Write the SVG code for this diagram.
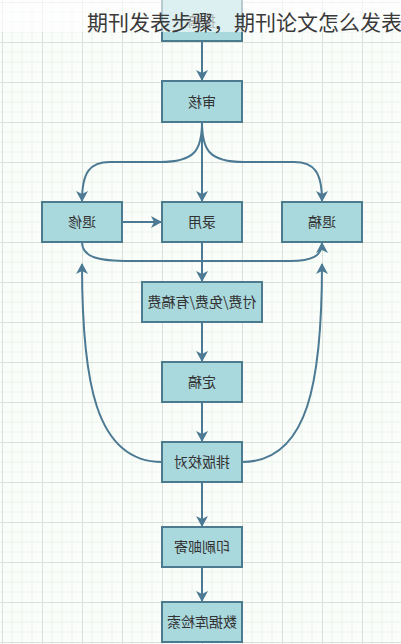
<svg xmlns="http://www.w3.org/2000/svg" width="401" height="644" viewBox="0 0 401 644">
<defs>
<pattern id="grid" x="2" y="2" width="40" height="40" patternUnits="userSpaceOnUse">
<rect width="40" height="40" fill="#fafdfa"/>
<path d="M10,0V40M20,0V40M30,0V40M0,10H40M0,20H40M0,30H40" stroke="#ebf5eb" stroke-width="1" fill="none"/>
<path d="M0.5,0V40M0,0.5H40" stroke="#d9e2d9" stroke-width="1" fill="none"/>
</pattern>
<marker id="arr" markerWidth="12" markerHeight="12" refX="10" refY="6" orient="auto" markerUnits="userSpaceOnUse">
<path d="M0,0 L11,6 L0,12 L3,6 z" fill="#4c7a94"/>
</marker>
<style>
.box{fill:#a9d8dd;stroke:#4c7a8e;stroke-width:2}
.lbl{font-family:"Noto Sans CJK SC","Noto Sans CJK JP",sans-serif;font-size:14px;fill:#333;text-anchor:middle}
.edge{fill:none;stroke:#4c7a94;stroke-width:2;marker-end:url(#arr)}
</style>
</defs>
<rect width="401" height="644" fill="url(#grid)"/>
<g id="connectors">
<path class="edge" d="M202,41 L202,80"/>
<path class="edge" d="M202,122 L202,201"/>
<path class="edge" d="M202,122 C202,150 195,162 160,162 L110,162 C90,162 82,172 82,201"/>
<path class="edge" d="M202,122 C202,150 209,162 244,162 L294,162 C314,162 322,172 322,201"/>
<path class="edge" d="M122,222 L161,222"/>
<path class="edge" d="M82,242 C82,258 100,261 130,261 L290,261 C312,261 322,256 322,243"/>
<path class="edge" d="M202,242 L202,281"/>
<path class="edge" d="M202,322 L202,361"/>
<path class="edge" d="M202,402 L202,441"/>
<path class="edge" d="M202,482 L202,526"/>
<path class="edge" d="M202,567 L202,601"/>
<path class="edge" d="M162,462 C95,462 82,380 82,264"/>
<path class="edge" d="M242,462 C309,462 322,380 322,264"/>
</g>
<g id="n-tougao"><rect class="box" x="162" y="-2" width="80" height="43"/><text class="lbl" x="202" y="26" transform="matrix(-1 0 0 1 404 0)">投稿</text></g>
<g id="n-shenhe"><rect class="box" x="162" y="81" width="80" height="41"/><text class="lbl" x="202" y="107" transform="matrix(-1 0 0 1 404 0)">审核</text></g>
<g id="n-tuixiu"><rect class="box" x="42" y="202" width="80" height="40"/><text class="lbl" x="82" y="227" transform="matrix(-1 0 0 1 164 0)">退修</text></g>
<g id="n-luyong"><rect class="box" x="162" y="202" width="80" height="40"/><text class="lbl" x="202" y="227" transform="matrix(-1 0 0 1 404 0)">录用</text></g>
<g id="n-tuigao"><rect class="box" x="282" y="202" width="80" height="40"/><text class="lbl" x="322" y="227" transform="matrix(-1 0 0 1 644 0)">退稿</text></g>
<g id="n-fufei"><rect class="box" x="142" y="282" width="120" height="40"/><text class="lbl" x="202" y="307" transform="matrix(-1 0 0 1 404 0)">付费/免费/有稿费</text></g>
<g id="n-dinggao"><rect class="box" x="162" y="362" width="80" height="40"/><text class="lbl" x="202" y="387" transform="matrix(-1 0 0 1 404 0)">定稿</text></g>
<g id="n-paiban"><rect class="box" x="162" y="442" width="80" height="40"/><text class="lbl" x="202" y="467" transform="matrix(-1 0 0 1 404 0)">排版校对</text></g>
<g id="n-yinshua"><rect class="box" x="162" y="527" width="80" height="40"/><text class="lbl" x="202" y="552" transform="matrix(-1 0 0 1 404 0)">印刷邮寄</text></g>
<g id="n-shujuku"><rect class="box" x="162" y="602" width="80" height="40"/><text class="lbl" x="202" y="627" transform="matrix(-1 0 0 1 404 0)">数据库检索</text></g>
<rect x="0" y="0" width="401" height="32" fill="#ffffff" opacity="0.6"/>
<text x="87" y="30" font-family="'Noto Sans CJK SC',sans-serif" font-size="21" fill="#3a3a3a">期刊发表步骤，期刊论文怎么发表</text>
</svg>
